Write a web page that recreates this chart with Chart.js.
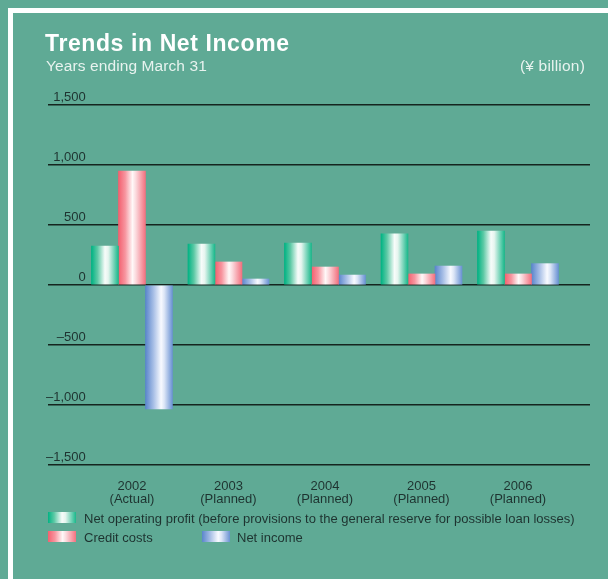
<!DOCTYPE html>
<html>
<head>
<meta charset="utf-8">
<script src="https://cdn.jsdelivr.net/npm/chart.js@4/dist/chart.umd.min.js"></script>
<style>
  html, body { margin: 0; padding: 0; }
  body { width: 608px; height: 579px; background: #5faa95; position: relative; overflow: hidden; font-family: "Liberation Sans", Arial, sans-serif; }
  #frame { position: absolute; left: 8px; top: 8px; width: 700px; height: 700px; border-left: 5px solid #ffffff; border-top: 5px solid #ffffff; box-sizing: border-box; }
  canvas { position: absolute; left: 0; top: 0; }
  .t { position: absolute; white-space: nowrap; line-height: 1; }
  #title { left: 45px; top: 32px; font-size: 23px; font-weight: bold; color: #ffffff; letter-spacing: 0.6px; }
  #sub { left: 46px; top: 58px; font-size: 15.5px; color: #e8f3ef; letter-spacing: 0.1px; }
  #unit { right: 23px; top: 58px; font-size: 15.5px; color: #e8f3ef; letter-spacing: 0.2px; }
  .lg { position: absolute; font-size: 13px; color: #1e3330; line-height: 1; white-space: nowrap; }
  .box { position: absolute; width: 28px; height: 11px; }
</style>
</head>
<body>
<div id="frame"></div>
<canvas id="c" width="608" height="579"></canvas>
<div class="t" id="title">Trends in Net Income</div>
<div class="t" id="sub">Years ending March 31</div>
<div class="t" id="unit">(¥ billion)</div>
<div id="legend"></div>
<script>
// ---- data ----
const years = ['2002', '2003', '2004', '2005', '2006'];
const notes = ['(Actual)', '(Planned)', '(Planned)', '(Planned)', '(Planned)'];
const netOperatingProfit = [325, 342, 350, 427, 450];
const creditCosts = [950, 192, 150, 92, 92];
const netIncome = [-1033, 50, 83, 158, 178];
const yTicks = [-1500, -1000, -500, 0, 500, 1000, 1500];
const seriesNames = [
  'Net operating profit (before provisions to the general reserve for possible loan losses)',
  'Credit costs',
  'Net income'
];

// ---- styles ----
const BAR = 27;
const greenStops = [[0, '#00b383'], [0.22, '#5cc9a5'], [0.5, '#f7fcfa'], [0.62, '#e6f5ef'], [1, '#1ab88b']];
const redStops = [[0, '#f3606f'], [0.25, '#f7959f'], [0.52, '#fff8f8'], [0.65, '#fbd8dc'], [1, '#f2717f']];
const blueStops = [[0, '#5a85cc'], [0.3, '#a8bfe6'], [0.58, '#f8faff'], [0.7, '#dbe5f6'], [1, '#6a92d3']];
const stopSets = [greenStops, redStops, blueStops];
const textColor = '#1e3330';
const gridColor = '#15251f';

function gradientFill(stops) {
  return (ctx) => {
    const chart = ctx.chart;
    const xs = chart.scales && chart.scales.x;
    if (!xs || ctx.type !== 'data' || !isFinite(xs.getPixelForValue(0))) return stops[0][1];
    const center = xs.getPixelForValue(ctx.dataIndex);
    const left = center - 1.5 * BAR + ctx.datasetIndex * BAR;
    const g = chart.ctx.createLinearGradient(left, 0, left + BAR, 0);
    stops.forEach(([o, c]) => g.addColorStop(o, c));
    return g;
  };
}

function toPoints(arr) { return arr.map((v, i) => ({ x: i, y: v })); }

function fmt(v) {
  const s = Math.abs(v).toLocaleString('en-US');
  return v < 0 ? '\u2013' + s : s;
}

const chart = new Chart(document.getElementById('c'), {
  type: 'bar',
  data: {
    datasets: [
      { label: seriesNames[0], data: toPoints(netOperatingProfit), backgroundColor: gradientFill(greenStops) },
      { label: seriesNames[1], data: toPoints(creditCosts), backgroundColor: gradientFill(redStops) },
      { label: seriesNames[2], data: toPoints(netIncome), backgroundColor: gradientFill(blueStops) }
    ]
  },
  options: {
    responsive: false,
    animation: false,
    devicePixelRatio: 1,
    barThickness: BAR,
    borderWidth: 0,
    layout: { padding: { left: 48, right: 18, top: 105, bottom: 64 } },
    plugins: { legend: { display: false }, tooltip: { enabled: false }, title: { display: false } },
    scales: {
      x: {
        type: 'linear',
        offset: false,
        min: -0.870,
        max: 4.746,
        grid: { display: false, offset: false },
        border: { display: false },
        afterBuildTicks: (scale) => { scale.ticks = years.map((y, i) => ({ value: i })); },
        afterFit: (scale) => { scale.height = 50; },
        ticks: {
          color: textColor,
          padding: 6.5,
          maxRotation: 0,
          autoSkip: false,
          font: { family: '"Liberation Sans", Arial, sans-serif', size: 13, lineHeight: 1.0 },
          callback: (v) => { const i = Math.round(v); return [years[i], notes[i]]; }
        }
      },
      y: {
        min: -1500,
        max: 1500,
        afterBuildTicks: (scale) => { scale.ticks = yTicks.map(v => ({ value: v })); },
        afterFit: (scale) => { scale.width = 0; },
        grid: { color: gridColor, lineWidth: 1.5, drawTicks: false },
        border: { display: false },
        ticks: {
          mirror: true,
          crossAlign: 'far',
          padding: -2,
          labelOffset: -8,
          color: textColor,
          font: { family: '"Liberation Sans", Arial, sans-serif', size: 13 },
          callback: (v) => fmt(v)
        }
      }
    }
  }
});

// ---- HTML legend built from the series names ----
function css(stops) {
  return 'linear-gradient(to right, ' + stops.map(([o, c]) => c + ' ' + (o * 100) + '%').join(', ') + ')';
}
const legendPos = [
  { bx: 48, by: 512, tx: 84, ty: 512 },
  { bx: 48, by: 531, tx: 84, ty: 531 },
  { bx: 202, by: 531, tx: 237, ty: 531 }
];
const lg = document.getElementById('legend');
seriesNames.forEach((name, i) => {
  const p = legendPos[i];
  const b = document.createElement('div');
  b.className = 'box';
  b.style.left = p.bx + 'px'; b.style.top = p.by + 'px';
  b.style.background = css(stopSets[i]);
  lg.appendChild(b);
  const t = document.createElement('div');
  t.className = 'lg';
  t.style.left = p.tx + 'px'; t.style.top = (p.ty - 0.5) + 'px';
  t.textContent = name;
  lg.appendChild(t);
});
</script>
</body>
</html>
